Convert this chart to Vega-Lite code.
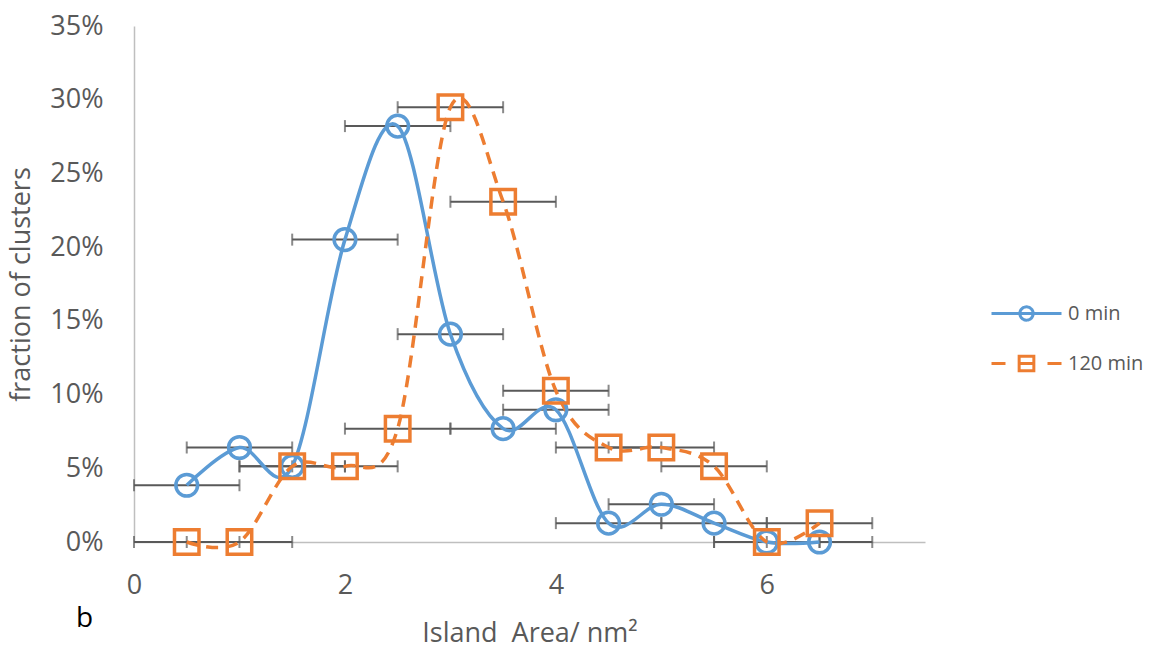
{
  "$schema": "https://vega.github.io/schema/vega-lite/v6.json",
  "width": 791,
  "height": 516,
  "autosize": {"type": "none"},
  "padding": {"left": 134, "top": 26, "right": 229, "bottom": 104},
  "background": "white",
  "title": {"text": "b", "orient": "bottom", "anchor": "start", "frame": "group", "fontSize": 28, "font": "Open Sans", "fontWeight": "normal", "color": "black", "dx": -58, "dy": -45},
  "config": {
    "view": {"stroke": null},
    "font": "Open Sans",
    "axis": {"grid": false, "ticks": false, "labelFlush": false, "domainColor": "#BFBFBF", "domainWidth": 1.5, "labelColor": "#595959", "labelFont": "Open Sans", "labelFontSize": 27, "titleColor": "#595959", "titleFont": "Open Sans", "titleFontSize": 27, "titleFontWeight": "normal"}
  },
  "data": {"values": [
    {"series": "0 min", "area": 0.5, "frac": 0.0385, "err": 0.5},
    {"series": "0 min", "area": 1.0, "frac": 0.0641, "err": 0.5},
    {"series": "0 min", "area": 1.5, "frac": 0.0513, "err": 0.5},
    {"series": "0 min", "area": 2.0, "frac": 0.2051, "err": 0.5},
    {"series": "0 min", "area": 2.5, "frac": 0.2821, "err": 0.5},
    {"series": "0 min", "area": 3.0, "frac": 0.1410, "err": 0.5},
    {"series": "0 min", "area": 3.5, "frac": 0.0769, "err": 0.5},
    {"series": "0 min", "area": 4.0, "frac": 0.0897, "err": 0.5},
    {"series": "0 min", "area": 4.5, "frac": 0.0128, "err": 0.5},
    {"series": "0 min", "area": 5.0, "frac": 0.0256, "err": 0.5},
    {"series": "0 min", "area": 5.5, "frac": 0.0128, "err": 0.5},
    {"series": "0 min", "area": 6.0, "frac": 0.0, "err": 0.5},
    {"series": "0 min", "area": 6.5, "frac": 0.0, "err": 0.5},
    {"series": "120 min", "area": 0.5, "frac": 0.0, "err": 0.5},
    {"series": "120 min", "area": 1.0, "frac": 0.0, "err": 0.5},
    {"series": "120 min", "area": 1.5, "frac": 0.0513, "err": 0.5},
    {"series": "120 min", "area": 2.0, "frac": 0.0513, "err": 0.5},
    {"series": "120 min", "area": 2.5, "frac": 0.0769, "err": 0.5},
    {"series": "120 min", "area": 3.0, "frac": 0.2949, "err": 0.5},
    {"series": "120 min", "area": 3.5, "frac": 0.2308, "err": 0.5},
    {"series": "120 min", "area": 4.0, "frac": 0.1026, "err": 0.5},
    {"series": "120 min", "area": 4.5, "frac": 0.0641, "err": 0.5},
    {"series": "120 min", "area": 5.0, "frac": 0.0641, "err": 0.5},
    {"series": "120 min", "area": 5.5, "frac": 0.0513, "err": 0.5},
    {"series": "120 min", "area": 6.0, "frac": 0.0, "err": 0.5},
    {"series": "120 min", "area": 6.5, "frac": 0.0128, "err": 0.5}
  ]},
  "encoding": {
    "x": {"field": "area", "type": "quantitative", "scale": {"domain": [0, 7.5], "nice": false, "zero": false},
      "axis": {"title": "Island \u00a0Area/ nm²", "values": [0, 2, 4, 6], "format": "d", "labelPadding": 30, "titlePadding": 22}},
    "y": {"field": "frac", "type": "quantitative", "scale": {"domain": [0, 0.35], "nice": false},
      "axis": {"title": "fraction of clusters", "values": [0, 0.05, 0.1, 0.15, 0.2, 0.25, 0.3, 0.35], "format": ".0%", "labelPadding": 31, "titlePadding": 14}}
  },
  "layer": [
    {
      "mark": {"type": "errorbar", "color": "#595959", "thickness": 2, "ticks": {"size": 12, "thickness": 2, "color": "#595959"}},
      "encoding": {"xError": {"field": "err"}}
    },
    {
      "transform": [{"filter": "datum.series === '0 min'"}],
      "mark": {"type": "line", "interpolate": "cardinal", "strokeWidth": 3.5},
      "encoding": {
        "color": {"field": "series", "type": "nominal", "scale": {"domain": ["0 min", "120 min"], "range": ["#5B9BD5", "#ED7D31"]},
          "legend": {"title": null, "orient": "none", "legendX": 856, "legendY": 251, "direction": "vertical", "symbolSize": 4900, "symbolStrokeWidth": 3, "labelFontSize": 20, "labelColor": "#595959", "labelFont": "Open Sans", "labelOffset": 5, "rowPadding": -8,
            "encode": {"symbols": {"update": {
              "shape": {"signal": "datum.value === '0 min' ? 'M-1,0H1M-0.19,0A0.19,0.19 0 1,0 0.19,0A0.19,0.19 0 1,0 -0.19,0' : 'M-1,0H-0.6M0.6,0H1M-0.21,-0.21H0.21V0.21H-0.21ZM-0.21,0H0.21'"},
              "size": {"value": 4900},
              "strokeWidth": {"value": 3},
              "strokeDash": {"value": [1, 0]},
              "fill": {"value": "transparent"}
            }}}}}
      }
    },
    {
      "transform": [{"filter": "datum.series === '120 min'"}],
      "mark": {"type": "line", "interpolate": "cardinal", "strokeWidth": 3.5, "strokeDash": [12, 8]},
      "encoding": {
        "color": {"field": "series", "type": "nominal",
          "legend": {"title": null, "orient": "none", "legendX": 856, "legendY": 251, "direction": "vertical", "symbolSize": 4900, "symbolStrokeWidth": 3, "labelFontSize": 20, "labelColor": "#595959", "labelFont": "Open Sans", "labelOffset": 5, "rowPadding": -8,
            "encode": {"symbols": {"update": {
              "shape": {"signal": "datum.value === '0 min' ? 'M-1,0H1M-0.19,0A0.19,0.19 0 1,0 0.19,0A0.19,0.19 0 1,0 -0.19,0' : 'M-1,0H-0.6M0.6,0H1M-0.21,-0.21H0.21V0.21H-0.21ZM-0.21,0H0.21'"},
              "size": {"value": 4900},
              "strokeWidth": {"value": 3},
              "strokeDash": {"value": [1, 0]},
              "fill": {"value": "transparent"}
            }}}}}
      }
    },
    {
      "transform": [{"filter": "datum.series === '0 min'"}],
      "mark": {"type": "point", "shape": "circle", "filled": false, "color": "#5B9BD5", "size": 470, "strokeWidth": 3.5, "opacity": 1}
    },
    {
      "transform": [{"filter": "datum.series === '120 min'"}],
      "mark": {"type": "point", "shape": "square", "filled": false, "color": "#ED7D31", "size": 600, "strokeWidth": 3.5, "opacity": 1}
    }
  ]
}
